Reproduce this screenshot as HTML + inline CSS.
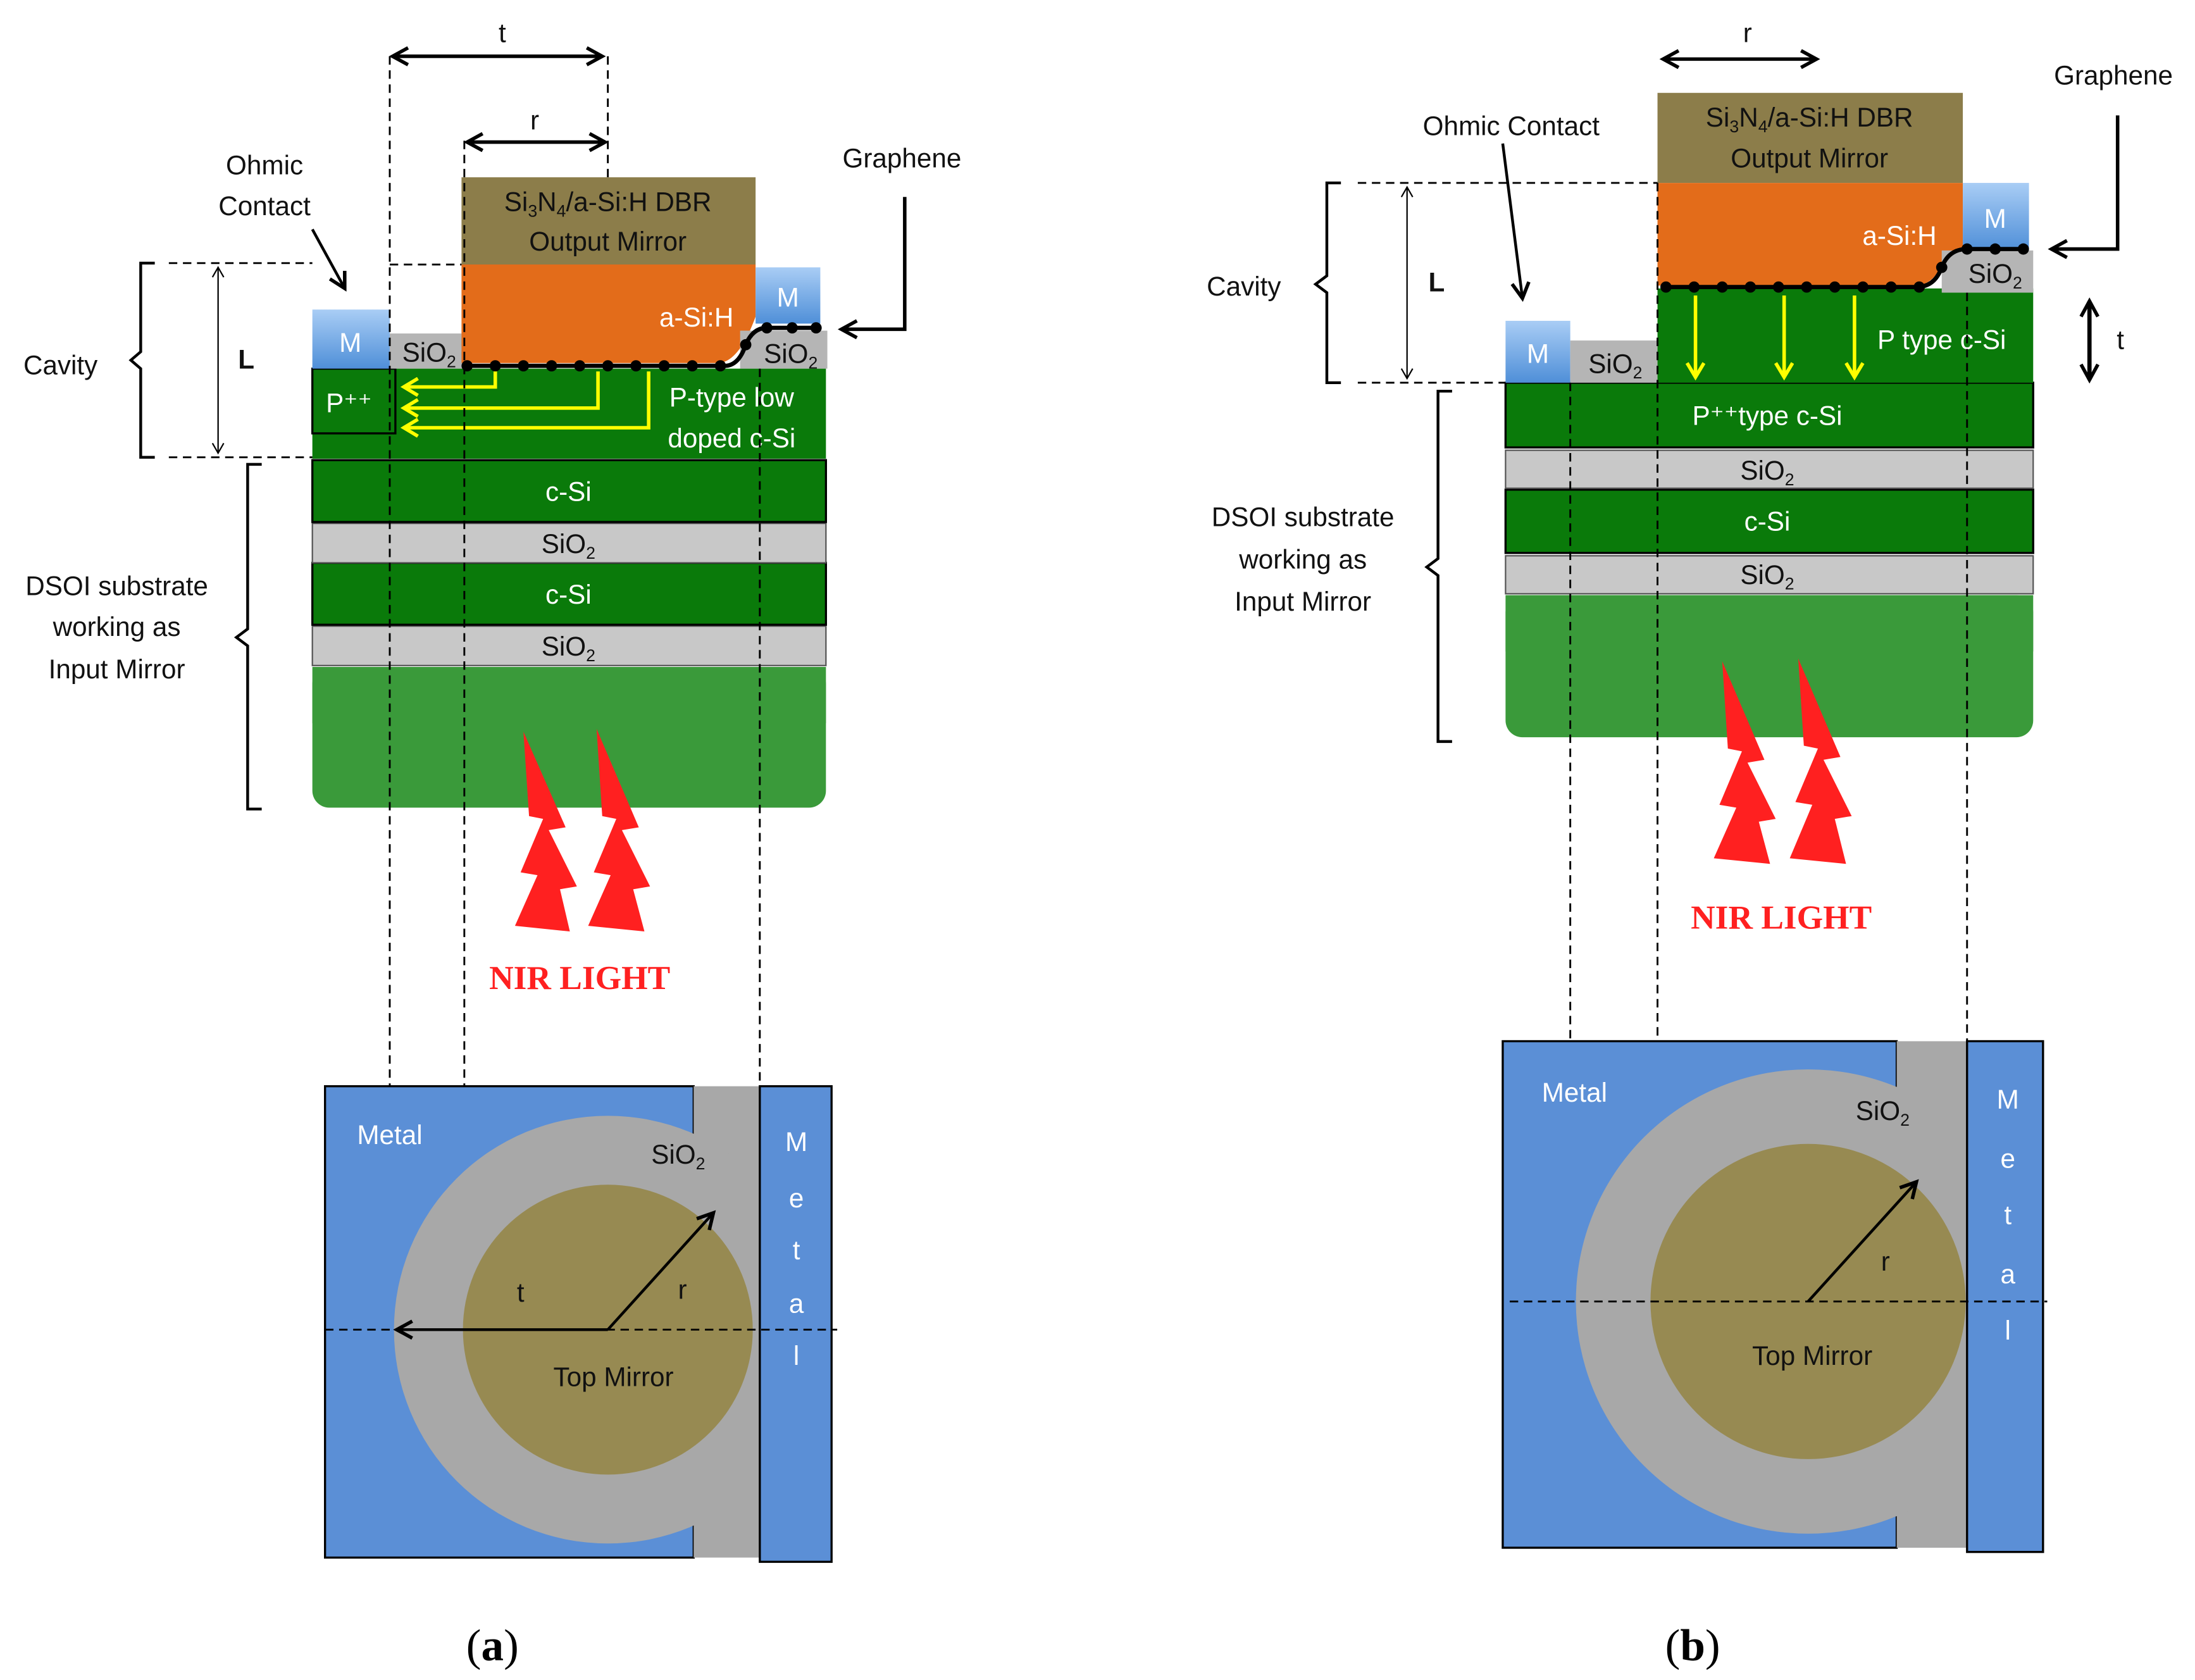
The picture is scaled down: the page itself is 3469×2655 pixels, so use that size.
<!DOCTYPE html>
<html><head><meta charset="utf-8"><style>html,body{margin:0;padding:0;background:#fff}svg{display:block}</style></head><body>
<svg width="3469" height="2655" viewBox="0 0 1560 1194" preserveAspectRatio="none" xmlns="http://www.w3.org/2000/svg" font-family="Liberation Sans, sans-serif">
<defs>
<marker id="ah" markerWidth="16" markerHeight="16" refX="13" refY="8" orient="auto-start-reverse" markerUnits="userSpaceOnUse"><path d="M2,2 L13,8 L2,14" fill="none" stroke="#000" stroke-width="2.5"/></marker>
<marker id="ahs" markerWidth="10" markerHeight="10" refX="8" refY="5" orient="auto-start-reverse" markerUnits="userSpaceOnUse"><path d="M1,1 L8,5 L1,9" fill="none" stroke="#000" stroke-width="1"/></marker>
<marker id="ay" markerWidth="14" markerHeight="14" refX="11" refY="7" orient="auto" markerUnits="userSpaceOnUse"><path d="M1,1 L11,7 L1,13" fill="none" stroke="#ff0" stroke-width="2.5"/></marker>
<linearGradient id="mg" x1="0" y1="0" x2="0" y2="1"><stop offset="0" stop-color="#a9cdf5"/><stop offset="1" stop-color="#4f8fd8"/></linearGradient>
</defs>
<style>.w{fill:#fff;font-size:19px;text-anchor:middle}.k{fill:#111;font-size:19px;text-anchor:middle}.d{stroke:#000;stroke-width:1.3;stroke-dasharray:6,4;fill:none}</style>

<!-- ===== (a) ===== -->
<rect x="222" y="474" width="365" height="100" rx="12" fill="#3a9a3a"/>
<rect x="222" y="474" width="365" height="40" fill="#3a9a3a"/>
<rect x="222" y="445" width="365" height="28" fill="#c8c8c8" stroke="#555" stroke-width="1"/>
<rect x="222" y="400" width="365" height="44" fill="#0a7a0a" stroke="#000" stroke-width="1.5"/>
<rect x="222" y="372" width="365" height="28" fill="#c8c8c8" stroke="#555" stroke-width="1"/>
<rect x="222" y="327" width="365" height="44" fill="#0a7a0a" stroke="#000" stroke-width="1.5"/>
<rect x="222" y="262" width="365" height="64" fill="#0a7a0a"/>
<rect x="222" y="262" width="59" height="46" fill="none" stroke="#000" stroke-width="1.5"/>
<text x="248" y="293" class="w" font-size="16">P⁺⁺</text>
<rect x="222" y="220" width="55" height="42" fill="url(#mg)"/>
<text x="249" y="250" class="w" font-size="20">M</text>
<rect x="277" y="237" width="53" height="25" fill="#b5b5b5"/>
<text x="305" y="257" class="k" font-size="18">SiO<tspan font-size="12" dy="4">2</tspan></text>
<rect x="328" y="126" width="209" height="62" fill="#8c7d4a"/>
<text x="432" y="150" class="k">Si<tspan font-size="12" dy="4">3</tspan><tspan dy="-4">N</tspan><tspan font-size="12" dy="4">4</tspan><tspan dy="-4">/a-Si:H DBR</tspan></text>
<text x="432" y="178" class="k">Output Mirror</text>
<path d="M328,188 H537 V225 Q525,258 510,258 H328 Z" fill="#e36c1a"/>
<text x="495" y="232" class="w">a-Si:H</text>
<rect x="537" y="190" width="46" height="40" fill="url(#mg)"/>
<text x="560" y="218" class="w" font-size="20">M</text>
<rect x="526" y="235" width="62" height="27" fill="#b5b5b5"/>
<text x="562" y="258" class="k" font-size="18">SiO<tspan font-size="12" dy="4">2</tspan></text>
<path d="M330,260 H515 Q525,260 530,245 Q535,233 545,233 H582" fill="none" stroke="#000" stroke-width="3"/>
<g fill="#000"><circle cx="332" cy="260" r="4"/><circle cx="352" cy="260" r="4"/><circle cx="372" cy="260" r="4"/><circle cx="392" cy="260" r="4"/><circle cx="412" cy="260" r="4"/><circle cx="432" cy="260" r="4"/><circle cx="452" cy="260" r="4"/><circle cx="472" cy="260" r="4"/><circle cx="492" cy="260" r="4"/><circle cx="512" cy="260" r="4"/><circle cx="530" cy="245" r="4"/><circle cx="545" cy="233" r="4"/><circle cx="563" cy="233" r="4"/><circle cx="580" cy="233" r="4"/></g>
<g fill="none" stroke="#ff0" stroke-width="2.5">
<path d="M352,264 V275 H287" marker-end="url(#ay)"/>
<path d="M425,264 V290 H287" marker-end="url(#ay)"/>
<path d="M461,264 V304 H287" marker-end="url(#ay)"/>
</g>
<text x="520" y="289" class="w">P-type low</text>
<text x="520" y="318" class="w">doped c-Si</text>
<text x="404" y="356" class="w">c-Si</text>
<text x="404" y="393" class="k" font-size="18">SiO<tspan font-size="12" dy="4">2</tspan></text>
<text x="404" y="429" class="w">c-Si</text>
<text x="404" y="466" class="k" font-size="18">SiO<tspan font-size="12" dy="4">2</tspan></text>
<path class="d" d="M277,40 V945 M330,100 V945 M432,40 V130 M540,262 V945 M277,188 H328 M120,187 H222 M120,325 H222"/>
<path d="M279,40 H428" stroke="#000" stroke-width="2.5" marker-end="url(#ah)" marker-start="url(#ah)" fill="none"/>
<path d="M332,101 H430" stroke="#000" stroke-width="2.5" marker-end="url(#ah)" marker-start="url(#ah)" fill="none"/>
<text x="357" y="30" class="k" font-size="24">t</text>
<text x="380" y="92" class="k" font-size="24">r</text>
<path d="M110,187 H100 V250 L93,256 L100,262 V325 H110" fill="none" stroke="#000" stroke-width="2"/>
<path d="M155,190 V322" stroke="#000" stroke-width="1" marker-end="url(#ahs)" marker-start="url(#ahs)"/>
<text x="175" y="262" class="k" font-size="18" font-weight="bold">L</text>
<text x="43" y="266" class="k">Cavity</text>
<path d="M186,330 H176 V447 L168,453 L176,459 V575 H186" fill="none" stroke="#000" stroke-width="2"/>
<text x="83" y="423" class="k">DSOI substrate</text>
<text x="83" y="452" class="k">working as</text>
<text x="83" y="482" class="k">Input Mirror</text>
<text x="188" y="124" class="k">Ohmic</text>
<text x="188" y="153" class="k">Contact</text>
<path d="M222,163 L245,205" stroke="#000" stroke-width="2" marker-end="url(#ah)"/>
<text x="641" y="119" class="k">Graphene</text>
<path d="M643,140 V234 H598" fill="none" stroke="#000" stroke-width="2.5" marker-end="url(#ah)"/>
<g fill="#ff2020">
<polygon points="372,520 402,588 390,590 410,630 398,632 405,662 366,658 382,622 370,620 386,582 376,580"/>
<polygon points="424,518 454,588 442,590 462,630 450,632 458,662 418,658 434,622 422,620 438,582 428,580"/>
</g>
<text x="412" y="703" fill="#ff2020" font-family="Liberation Serif, serif" font-weight="bold" font-size="24" text-anchor="middle">NIR  LIGHT</text>
<rect x="231" y="772" width="262" height="335" fill="#5b8fd6" stroke="#000" stroke-width="1.5"/>
<rect x="493" y="772" width="47" height="335" fill="#a8a8a8"/>
<circle cx="432" cy="945" r="152" fill="#a8a8a8"/>
<circle cx="432" cy="945" r="103" fill="#978a52"/>
<rect x="540" y="772" width="51" height="338" fill="#5b8fd6" stroke="#000" stroke-width="1.5"/>
<path class="d" d="M231,945 H595"/>
<path d="M432,945 H282" stroke="#000" stroke-width="2" marker-end="url(#ah)"/>
<path d="M432,945 L507,862" stroke="#000" stroke-width="2" marker-end="url(#ah)"/>
<text x="277" y="813" class="w" font-size="22">Metal</text>
<text x="482" y="827" class="k">SiO<tspan font-size="12" dy="4">2</tspan></text>
<text x="370" y="925" class="k" font-size="22">t</text>
<text x="485" y="923" class="k" font-size="22">r</text>
<text x="436" y="985" class="k">Top Mirror</text>
<g font-size="22"><text x="566" y="818" class="w">M</text><text x="566" y="858" class="w">e</text><text x="566" y="895" class="w">t</text><text x="566" y="933" class="w">a</text><text x="566" y="970" class="w">l</text></g>
<text x="350" y="1180" font-family="Liberation Serif, serif" font-size="32" text-anchor="middle">(<tspan font-weight="bold">a</tspan>)</text>

<!-- ===== (b) ===== -->
<rect x="1070" y="423" width="375" height="101" rx="12" fill="#3a9a3a"/>
<rect x="1070" y="423" width="375" height="40" fill="#3a9a3a"/>
<rect x="1070" y="395" width="375" height="27" fill="#c8c8c8" stroke="#555" stroke-width="1"/>
<rect x="1070" y="348" width="375" height="45" fill="#0a7a0a" stroke="#000" stroke-width="1.5"/>
<rect x="1070" y="320" width="375" height="27" fill="#c8c8c8" stroke="#555" stroke-width="1"/>
<rect x="1070" y="272" width="375" height="46" fill="#0a7a0a" stroke="#000" stroke-width="1.5"/>
<rect x="1178" y="205" width="267" height="67" fill="#0a7a0a"/>
<rect x="1070" y="228" width="46" height="44" fill="url(#mg)"/>
<text x="1093" y="258" class="w" font-size="20">M</text>
<rect x="1116" y="242" width="62" height="30" fill="#b5b5b5"/>
<text x="1148" y="265" class="k" font-size="18">SiO<tspan font-size="12" dy="4">2</tspan></text>
<rect x="1178" y="66" width="217" height="64" fill="#8c7d4a"/>
<text x="1286" y="90" class="k">Si<tspan font-size="12" dy="4">3</tspan><tspan dy="-4">N</tspan><tspan font-size="12" dy="4">4</tspan><tspan dy="-4">/a-Si:H DBR</tspan></text>
<text x="1286" y="119" class="k">Output Mirror</text>
<path d="M1178,130 H1395 V178 Q1385,178 1378,192 Q1372,203 1360,203 H1178 Z" fill="#e36c1a"/>
<text x="1350" y="174" class="w">a-Si:H</text>
<rect x="1395" y="130" width="47" height="48" fill="url(#mg)"/>
<text x="1418" y="162" class="w" font-size="20">M</text>
<rect x="1380" y="178" width="65" height="30" fill="#b5b5b5"/>
<text x="1418" y="201" class="k" font-size="18">SiO<tspan font-size="12" dy="4">2</tspan></text>
<path d="M1182,204 H1362 Q1375,204 1380,190 Q1385,177 1398,177 H1440" fill="none" stroke="#000" stroke-width="3"/>
<g fill="#000"><circle cx="1184" cy="204" r="4"/><circle cx="1204" cy="204" r="4"/><circle cx="1224" cy="204" r="4"/><circle cx="1244" cy="204" r="4"/><circle cx="1264" cy="204" r="4"/><circle cx="1284" cy="204" r="4"/><circle cx="1304" cy="204" r="4"/><circle cx="1324" cy="204" r="4"/><circle cx="1344" cy="204" r="4"/><circle cx="1364" cy="204" r="4"/><circle cx="1380" cy="190" r="4"/><circle cx="1398" cy="177" r="4"/><circle cx="1418" cy="177" r="4"/><circle cx="1438" cy="177" r="4"/></g>
<g stroke="#ff0" stroke-width="2.5" fill="none">
<path d="M1205,210 V268" marker-end="url(#ay)"/>
<path d="M1268,210 V268" marker-end="url(#ay)"/>
<path d="M1318,210 V268" marker-end="url(#ay)"/>
</g>
<text x="1380" y="248" class="w">P type c-Si</text>
<text x="1256" y="302" class="w">P⁺⁺type  c-Si</text>
<text x="1256" y="341" class="k" font-size="18">SiO<tspan font-size="12" dy="4">2</tspan></text>
<text x="1256" y="377" class="w">c-Si</text>
<text x="1256" y="415" class="k" font-size="18">SiO<tspan font-size="12" dy="4">2</tspan></text>
<path class="d" d="M1116,272 V925 M1178,130 V925 M1398,208 V925 M965,130 H1178 M965,272 H1070"/>
<path d="M1182,42 H1291" stroke="#000" stroke-width="2.5" marker-end="url(#ah)" marker-start="url(#ah)"/>
<text x="1242" y="30" class="k" font-size="24">r</text>
<path d="M953,130 H943 V196 L935,202 L943,208 V272 H953" fill="none" stroke="#000" stroke-width="2"/>
<path d="M1000,133 V269" stroke="#000" stroke-width="1" marker-end="url(#ahs)" marker-start="url(#ahs)"/>
<text x="1021" y="207" class="k" font-size="18" font-weight="bold">L</text>
<text x="884" y="210" class="k">Cavity</text>
<path d="M1032,278 H1022 V397 L1014,403 L1022,409 V527 H1032" fill="none" stroke="#000" stroke-width="2"/>
<text x="926" y="374" class="k">DSOI substrate</text>
<text x="926" y="404" class="k">working as</text>
<text x="926" y="434" class="k">Input Mirror</text>
<text x="1074" y="96" class="k">Ohmic Contact</text>
<path d="M1068,102 L1082,212" stroke="#000" stroke-width="2" marker-end="url(#ah)"/>
<text x="1502" y="60" class="k">Graphene</text>
<path d="M1505,82 V177 H1458" fill="none" stroke="#000" stroke-width="2.5" marker-end="url(#ah)"/>
<path d="M1485,214 V270" stroke="#000" stroke-width="3" marker-end="url(#ah)" marker-start="url(#ah)"/>
<text x="1507" y="248" class="k" font-size="24">t</text>
<g fill="#ff2020">
<polygon points="1224,470 1254,540 1242,542 1262,582 1250,584 1258,614 1218,610 1234,574 1222,572 1238,534 1228,532"/>
<polygon points="1278,468 1308,538 1296,540 1316,580 1304,582 1312,614 1272,610 1288,572 1276,570 1292,532 1282,530"/>
</g>
<text x="1266" y="660" fill="#ff2020" font-family="Liberation Serif, serif" font-weight="bold" font-size="24" text-anchor="middle">NIR  LIGHT</text>
<rect x="1068" y="740" width="280" height="360" fill="#5b8fd6" stroke="#000" stroke-width="1.5"/>
<rect x="1348" y="740" width="50" height="360" fill="#a8a8a8"/>
<circle cx="1285" cy="925" r="165" fill="#a8a8a8"/>
<circle cx="1285" cy="925" r="112" fill="#978a52"/>
<rect x="1398" y="740" width="54" height="363" fill="#5b8fd6" stroke="#000" stroke-width="1.5"/>
<path class="d" d="M1073,925 H1455"/>
<path d="M1285,925 L1362,840" stroke="#000" stroke-width="2" marker-end="url(#ah)"/>
<text x="1119" y="783" class="w" font-size="22">Metal</text>
<text x="1338" y="796" class="k">SiO<tspan font-size="12" dy="4">2</tspan></text>
<text x="1340" y="903" class="k" font-size="22">r</text>
<text x="1288" y="970" class="k">Top Mirror</text>
<g font-size="22"><text x="1427" y="788" class="w">M</text><text x="1427" y="830" class="w">e</text><text x="1427" y="870" class="w">t</text><text x="1427" y="912" class="w">a</text><text x="1427" y="952" class="w">l</text></g>
<text x="1203" y="1180" font-family="Liberation Serif, serif" font-size="32" text-anchor="middle">(<tspan font-weight="bold">b</tspan>)</text>
</svg>
</body></html>
